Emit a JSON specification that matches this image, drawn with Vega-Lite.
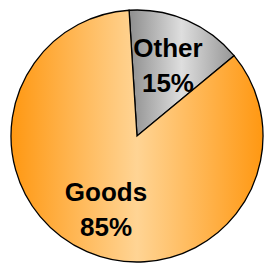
{
  "$schema": "https://vega.github.io/schema/vega-lite/v6.json",
  "width": 262,
  "height": 256,
  "autosize": "none",
  "padding": {"left": 6, "top": 8, "right": 0, "bottom": 0},
  "background": "white",
  "view": {"stroke": null},
  "data": {"values": [
    {"category": "Other", "share": 15, "label": "Other\n15%"},
    {"category": "Goods", "share": 85, "label": "Goods\n85%"}
  ]},
  "encoding": {
    "theta": {"field": "share", "type": "quantitative", "stack": true, "scale": {"range": [-0.063, 6.2202]}},
    "order": {"field": "share", "type": "quantitative", "sort": "ascending"}
  },
  "layer": [
    {
      "mark": {"type": "arc", "outerRadius": 126, "stroke": "black", "strokeWidth": 1.3},
      "encoding": {
        "fill": {
          "condition": {
            "test": "datum.category === 'Other'",
            "value": {"gradient": "linear", "x1": 0, "x2": 1, "y1": 0, "y2": 0, "stops": [
              {"offset": 0, "color": "#8e8e8e"},
              {"offset": 0.5, "color": "#dedede"},
              {"offset": 1, "color": "#969696"}
            ]}
          },
          "value": {"gradient": "linear", "x1": 0, "x2": 1, "y1": 0, "y2": 0, "stops": [
            {"offset": 0, "color": "#ff9812"},
            {"offset": 0.5, "color": "#ffd494"},
            {"offset": 1, "color": "#ff9812"}
          ]}
        }
      }
    },
    {
      "mark": {"type": "text", "radius": 78, "dy": -15, "font": "Liberation Sans", "fontSize": 26, "fontWeight": "bold", "lineHeight": 35, "lineBreak": "\n", "align": "center", "baseline": "middle", "color": "black"},
      "encoding": {"text": {"field": "label", "type": "nominal"}}
    }
  ]
}
